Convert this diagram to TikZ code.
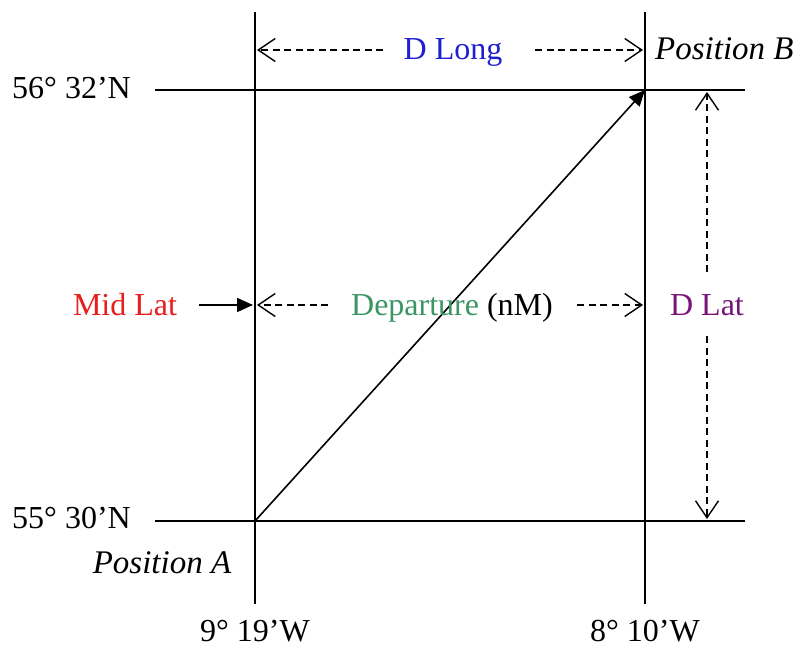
\documentclass[tikz,border=0pt]{standalone}
\usepackage{fontspec}
\setmainfont{Liberation Serif}
\usetikzlibrary{arrows.meta}
\definecolor{dlong}{RGB}{30,30,210}
\definecolor{midlat}{RGB}{230,30,30}
\definecolor{depart}{RGB}{60,150,100}
\definecolor{dlat}{RGB}{120,20,120}
\begin{document}
\begin{tikzpicture}[x=1pt,y=-1pt,
  gridline/.style={line width=1.6pt,black},
  dimline/.style={line width=1.4pt,dash pattern=on 7pt off 4.5pt,-{Straight Barb[length=17pt,width=23pt,line width=1.4pt]}},
  solidarrow/.style={line width=1.6pt,-{Triangle[length=16pt,width=14pt]}},
  lbl/.style={inner sep=0pt,anchor=base,font=\fontsize{32}{36}\selectfont},
  ilbl/.style={lbl,font=\fontsize{33}{37}\selectfont\itshape}]
\useasboundingbox (0,0) rectangle (795,648);
% grid coordinates
\coordinate (vlT) at (255,12); \coordinate (vlB) at (255,604);
\coordinate (vrT) at (645,12); \coordinate (vrB) at (645,604);
\coordinate (htL) at (155,90); \coordinate (htR) at (745,90);
\coordinate (hbL) at (155,521); \coordinate (hbR) at (745,521);
\coordinate (A) at (255,521); \coordinate (B) at (645,90);
\draw[gridline] (vlT) -- (vlB);
\draw[gridline] (vrT) -- (vrB);
\draw[gridline] (htL) -- (htR);
\draw[gridline] (hbL) -- (hbR);
\draw[solidarrow] (A) -- (B);
% labels
\node[lbl,anchor=base east] (lat1) at (131,98) {56° 32’N};
\node[lbl,anchor=base east] (lat2) at (131,528) {55° 30’N};
\node[lbl] (lon1) at (255,641) {9° 19’W};
\node[lbl] (lon2) at (645,641) {8° 10’W};
\node[ilbl,anchor=base west] (posB) at (655,59) {Position B};
\node[ilbl] (posA) at (162,573) {Position A};
% D Long
\node[lbl,text=dlong] (dlong) at (453,59) {D Long};
\coordinate (dlL0) at (383,50); \coordinate (dlL1) at (257,50);
\coordinate (dlR0) at (535,50); \coordinate (dlR1) at (643,50);
\draw[dimline] (dlL0) -- (dlL1);
\draw[dimline] (dlR0) -- (dlR1);
% Departure
\node[lbl] (dep) at (452,315) {\textcolor{depart}{Departure} (nM)};
\coordinate (dpL0) at (328,305); \coordinate (dpL1) at (257,305);
\coordinate (dpR0) at (577,305); \coordinate (dpR1) at (643,305);
\draw[dimline] (dpL0) -- (dpL1);
\draw[dimline] (dpR0) -- (dpR1);
% Mid Lat
\node[lbl,text=midlat] (midlat) at (125,315) {Mid Lat};
\coordinate (mlS) at (199,305); \coordinate (mlT) at (253,305);
\draw[solidarrow] (mlS) -- (mlT);
% D Lat
\node[lbl,text=dlat] (dlat) at (707,315) {D Lat};
\coordinate (dtU0) at (707,272); \coordinate (dtU1) at (707,92);
\coordinate (dtD0) at (707,336); \coordinate (dtD1) at (707,519);
\draw[dimline] (dtU0) -- (dtU1);
\draw[dimline] (dtD0) -- (dtD1);
\end{tikzpicture}
\end{document}
